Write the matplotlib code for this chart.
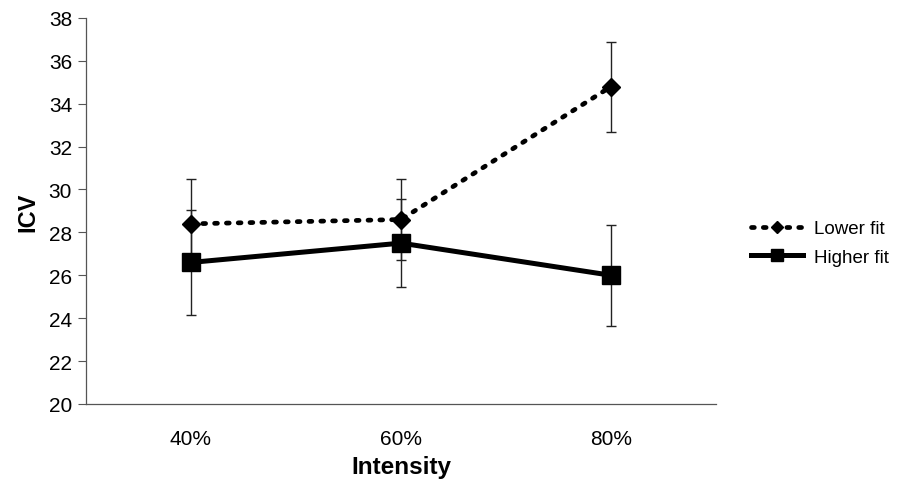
import matplotlib
matplotlib.use("Agg")
import matplotlib.pyplot as plt
import numpy as np

plt.rcParams['font.family'] = ['Liberation Sans', 'DejaVu Sans']

categories = ["40%", "60%", "80%"]
lower_fit = [28.4, 28.6, 34.8]
lower_err = [2.1, 1.9, 2.1]
higher_fit = [26.6, 27.5, 26.0]
higher_err = [2.45, 2.05, 2.35]
yticks = [20, 22, 24, 26, 28, 30, 32, 34, 36, 38]

fig = plt.figure(figsize=(9.04, 4.85), dpi=100)
ax = fig.add_axes([0.0951, 0.165, 0.697, 0.796])

x = np.arange(len(categories)) + 0.5

ax.errorbar(x, lower_fit, yerr=lower_err, fmt='none', ecolor='#222222',
            elinewidth=1.0, capsize=3.8, capthick=1.0, zorder=2)
ax.errorbar(x, higher_fit, yerr=higher_err, fmt='none', ecolor='#222222',
            elinewidth=1.0, capsize=3.8, capthick=1.0, zorder=2)
ax.plot(x, lower_fit, linestyle=(0, (0.6, 1.9)), linewidth=3.4, color='black',
        dash_capstyle='round', marker='D', markersize=9, label='Lower fit', zorder=3)
ax.plot(x, higher_fit, linestyle='-', linewidth=3.6, color='black',
        marker='s', markersize=13, label='Higher fit', zorder=3)

ax.set_xlim(0, 3)
ax.set_ylim(20, 38)
ax.set_yticks(yticks)
ax.set_xticks(x)
ax.set_xticklabels(categories)
ax.tick_params(axis='x', length=0, labelsize=15, pad=18)
ax.tick_params(axis='y', length=6, labelsize=15, width=0.8, color='#555555', pad=4)
for s in ['top', 'right']:
    ax.spines[s].set_visible(False)
for s in ['left', 'bottom']:
    ax.spines[s].set_color('#555555')
    ax.spines[s].set_linewidth(0.9)

ax.set_xlabel('Intensity', fontsize=17.5, fontweight='bold', labelpad=5)
ax.set_ylabel('ICV', fontsize=17, fontweight='bold', labelpad=7)

leg = ax.legend(loc='center left', bbox_to_anchor=(1.04, 0.417), frameon=False,
                fontsize=13.5, handlelength=2.8, handletextpad=0.6, borderpad=0,
                labelspacing=0.6, markerscale=0.7)

fig.savefig('out.png', dpi=100)
